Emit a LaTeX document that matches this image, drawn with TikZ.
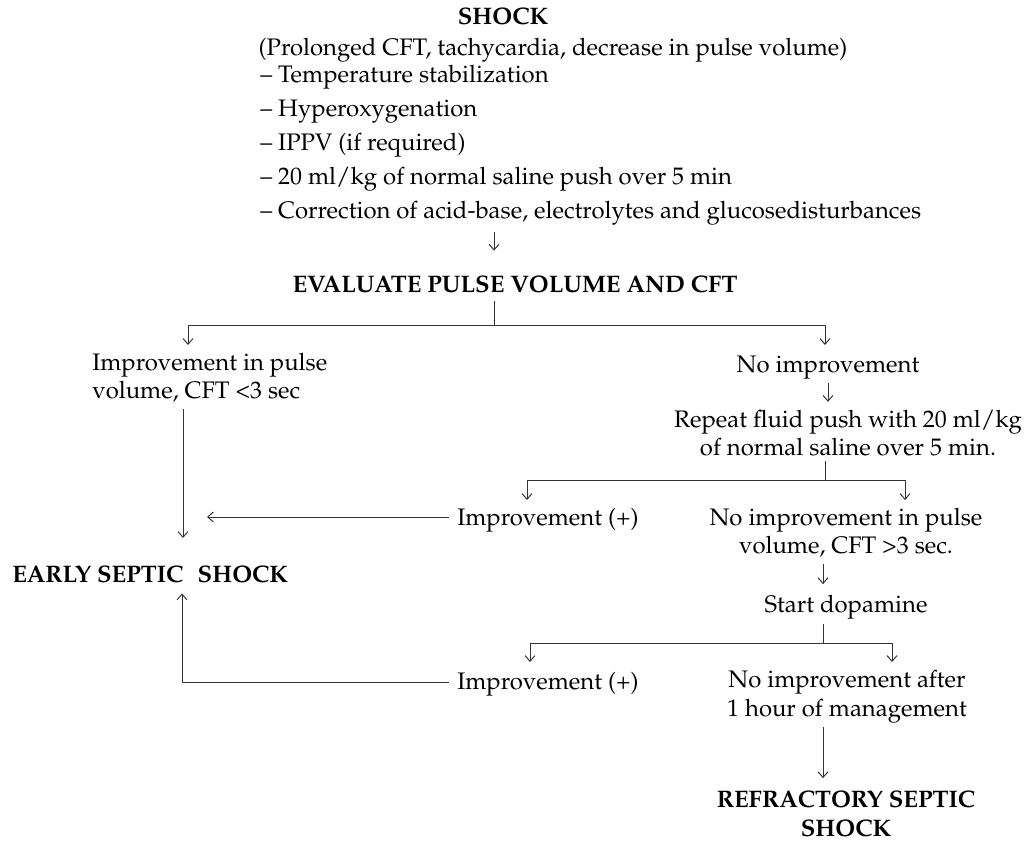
\documentclass[tikz,border=0pt]{standalone}
\usepackage[T1]{fontenc}
\usepackage{mathpazo}
\usetikzlibrary{arrows.meta}

\begin{document}
\begin{tikzpicture}[x=0.025cm, y=-0.025cm,
    txt/.style={inner sep=0pt, anchor=base, align=center, font=\fontsize{17}{20}\selectfont},
    head/.style={txt, font=\fontsize{17}{20}\selectfont\bfseries},
    line/.style={draw=black!80, line width=0.7pt},
    arr/.style={line, -{Straight Barb[length=4pt,width=7pt]}}]
    \useasboundingbox (0,0) rectangle (1034,845);

    % Shock with first measures (base = last line)
    \node[head] (shock) at (503,25) {SHOCK};
    \node[txt] (signs) at (553,56) {(Prolonged CFT, tachycardia, decrease in pulse volume)};
    \node[txt, anchor=base west, align=left, font=\fontsize{17}{24.2}\selectfont] (measures) at (260,219)
        {-- Temperature stabilization\\
         -- Hyperoxygenation\\
         -- IPPV (if required)\\
         -- 20 ml/kg of normal saline push over 5 min\\
         -- Correction of acid-base, electrolytes and glucosedisturbances};

    % Evaluate
    \node[head] (evaluate) at (515,293) {EVALUATE PULSE VOLUME AND CFT};
    \coordinate (split1) at (494,325);
    \draw[arr, shorten <=4pt, shorten >=18pt] (measures.south -| split1) -- (evaluate.north -| split1);
    \draw[line, shorten <=5pt] (evaluate.south -| split1) -- (split1);
    \coordinate (b1) at (188,345);
    \coordinate (b2) at (825,345);
    \draw[arr] (split1) -| (b1);
    \draw[arr] (split1) -| (b2);

    % Left branch
    \node[txt, anchor=base west, align=left] (better) at (92,399) {Improvement in pulse\\volume, CFT <3 sec};
    \node[head, anchor=base west] (early) at (12,583) {EARLY SEPTIC\hspace{0.35em} SHOCK};
    \coordinate (c1) at (183,538);
    \draw[arr, shorten <=4pt] (better.south -| c1) -- (c1);

    % Right branch
    \node[txt] (noimp) at (828,373) {No improvement};
    \node[txt] (repeat) at (848,456) {Repeat fluid push with 20 ml/kg\\of normal saline over 5 min.};
    \draw[arr, shorten <=2pt, shorten >=6pt] (noimp.south) -- (repeat.north -| noimp.south);
    \coordinate (split2) at (825,480);
    \draw[line, shorten <=3pt] (repeat.south -| split2) -- (split2);
    \draw[arr] (split2) -| (527,500);
    \draw[arr] (split2) -| (905,500);

    \node[txt, anchor=base west] (imp1) at (457,526) {Improvement (+)};
    \coordinate (d1) at (207,517);
    \draw[arr, shorten <=6pt] (imp1.west |- d1) -- (d1);

    \node[txt] (noimp2) at (846,554) {No improvement in pulse\\volume, CFT >3 sec.};
    \node[txt] (dopamine) at (846,613) {Start dopamine};
    \coordinate (split3) at (823,643);
    \draw[arr, shorten <=4pt, shorten >=8pt] (noimp2.south -| split3) -- (dopamine.north -| split3);
    \draw[line, shorten <=3pt] (dopamine.south -| split3) -- (split3);
    \draw[arr] (split3) -| (530,662);
    \draw[arr] (split3) -| (892,662);

    \node[txt, anchor=base west] (imp2) at (457,690) {Improvement (+)};
    \coordinate (e1) at (182,682);
    \draw[arr, shorten <=6pt, shorten >=7pt] (imp2.west |- e1) -| (early.south -| e1);

    \node[txt] (noimp3) at (847,716) {No improvement after\\1 hour of management};
    \node[head] (refractory) at (846,836) {REFRACTORY SEPTIC\\SHOCK};
    \draw[arr, shorten <=3pt, shorten >=9pt] (noimp3.south -| split3) -- (refractory.north -| split3);
\end{tikzpicture}
\end{document}
